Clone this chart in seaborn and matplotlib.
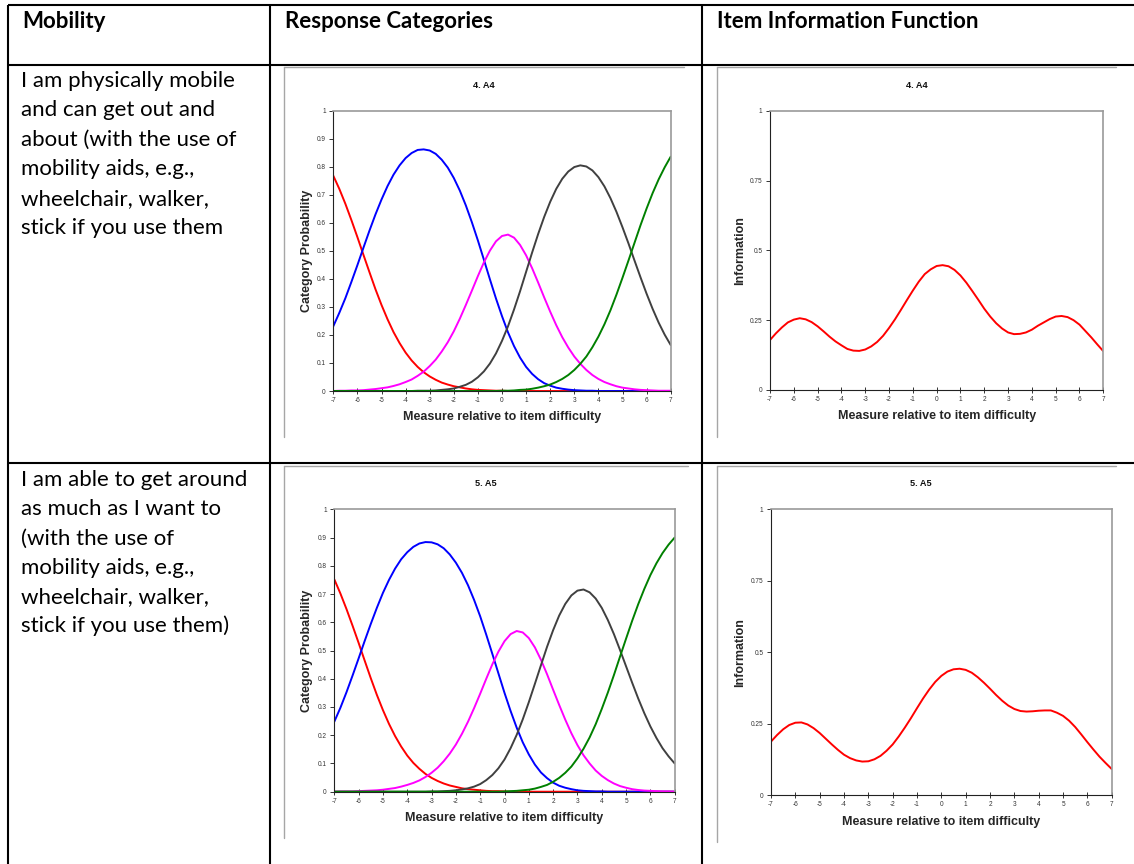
import matplotlib
matplotlib.use("Agg")
import matplotlib.pyplot as plt
import seaborn as sns
import pandas as pd

# measure relative to item difficulty (x grid of the curves)
x_vals = [-7, -6.75, -6.5, -6.25, -6, -5.75, -5.5, -5.25, -5, -4.75, -4.5, -4.25, -4, -3.75,
          -3.5, -3.25, -3, -2.75, -2.5, -2.25, -2, -1.75, -1.5, -1.25, -1, -0.75, -0.5, -0.25,
          0, 0.25, 0.5, 0.75, 1, 1.25, 1.5, 1.75, 2, 2.25, 2.5, 2.75, 3, 3.25, 3.5, 3.75,
          4, 4.25, 4.5, 4.75, 5, 5.25, 5.5, 5.75, 6, 6.25, 6.5, 6.75, 7]

categories = ["0", "1", "2", "3", "4"]
cat_colors = ["#ff0000", "#0000ff", "#ff00ff", "#404040", "#008000"]

# item 4. A4 - category probabilities
a4_cat0 = [.768, .721, .668, .610, .549, .486, .424, .363, .307, .256, .210, .171, .137, .109,
           .086, .067, .052, .040, .030, .023, .017, .013, .009, .006, .004, .003, .002, .001,
           .001, 0, 0, 0, 0, 0, 0, 0, 0, 0, 0, 0, 0, 0, 0, 0,
           0, 0, 0, 0, 0, 0, 0, 0, 0, 0, 0, 0, 0]
a4_cat1 = [.231, .279, .331, .389, .449, .511, .572, .630, .683, .731, .772, .805, .831, .849,
           .860, .862, .858, .846, .825, .797, .760, .715, .662, .602, .537, .468, .398, .330,
           .267, .209, .160, .119, .086, .061, .042, .028, .019, .012, .008, .005, .003, .002, .001, .001,
           0, 0, 0, 0, 0, 0, 0, 0, 0, 0, 0, 0, 0]
a4_cat2 = [0, .001, .001, .002, .002, .003, .005, .007, .010, .013, .018, .024, .032, .041,
           .054, .069, .089, .112, .141, .174, .213, .258, .307, .358, .410, .459, .501, .534,
           .553, .558, .547, .521, .484, .438, .387, .334, .283, .235, .192, .155, .123, .097, .075, .057,
           .043, .032, .024, .017, .012, .009, .006, .004, .003, .002, .001, .001, .001]
a4_cat3 = [0, 0, 0, 0, 0, 0, 0, 0, 0, 0, 0, 0, 0, 0,
           .001, .001, .001, .002, .004, .006, .009, .015, .022, .033, .049, .070, .098, .134,
           .179, .231, .291, .356, .425, .494, .560, .621, .675, .721, .757, .783, .799, .805, .801, .787,
           .763, .730, .688, .639, .584, .526, .465, .405, .347, .293, .244, .201, .164]
a4_cat4 = [0, 0, 0, 0, 0, 0, 0, 0, 0, 0, 0, 0, 0, 0,
           0, 0, 0, 0, 0, 0, 0, 0, 0, 0, 0, 0, 0, 0,
           .001, .001, .002, .004, .005, .008, .012, .017, .023, .032, .043, .057, .075, .097, .123, .156,
           .194, .238, .288, .344, .404, .466, .529, .592, .651, .706, .755, .798, .836]
a4_info = [.179, .203, .224, .242, .252, .257, .253, .243, .228, .210, .191, .174, .160, .147,
           .141, .140, .145, .156, .172, .194, .222, .253, .287, .322, .356, .388, .415, .432,
           .444, .447, .443, .430, .410, .384, .354, .323, .291, .263, .239, .220, .206, .200, .201, .206,
           .216, .230, .242, .254, .263, .265, .261, .250, .234, .211, .188, .163, .139]

# item 5. A5 - category probabilities
a5_cat0 = [.752, .702, .647, .588, .527, .464, .402, .343, .289, .240, .197, .160, .128, .102,
           .081, .063, .049, .038, .029, .022, .017, .012, .009, .007, .005, .003, .002, .002,
           .001, 0, 0, 0, 0, 0, 0, 0, 0, 0, 0, 0, 0, 0, 0, 0,
           0, 0, 0, 0, 0, 0, 0, 0, 0, 0, 0, 0, 0]
a5_cat1 = [.248, .297, .352, .411, .472, .534, .594, .651, .704, .750, .790, .823, .848, .867,
           .879, .884, .883, .876, .862, .840, .811, .775, .731, .679, .621, .556, .488, .419,
           .350, .286, .227, .175, .132, .096, .068, .048, .032, .021, .014, .009, .005, .003, .002, .001,
           .001, 0, 0, 0, 0, 0, 0, 0, 0, 0, 0, 0, 0]
a5_cat2 = [0, .001, .001, .001, .002, .003, .004, .005, .007, .010, .013, .018, .024, .031,
           .040, .052, .067, .085, .108, .135, .167, .205, .248, .296, .347, .400, .451, .496,
           .533, .558, .569, .564, .544, .511, .467, .416, .361, .307, .255, .207, .165, .129, .100, .075,
           .056, .041, .029, .020, .014, .009, .006, .004, .003, .002, .001, .001, 0]
a5_cat3 = [0, 0, 0, 0, 0, 0, 0, 0, 0, 0, 0, 0, 0, 0,
           0, 0, .001, .001, .002, .003, .005, .008, .012, .018, .027, .041, .059, .083,
           .114, .154, .201, .256, .317, .382, .448, .513, .572, .624, .665, .695, .712, .716, .706, .684,
           .651, .608, .558, .502, .444, .386, .330, .278, .231, .190, .154, .125, .100]
a5_cat4 = [0, 0, 0, 0, 0, 0, 0, 0, 0, 0, 0, 0, 0, 0,
           0, 0, 0, 0, 0, 0, 0, 0, 0, 0, 0, 0, 0, 0,
           .001, .002, .003, .005, .007, .011, .017, .024, .035, .049, .067, .089, .118, .152, .192, .239,
           .293, .351, .413, .478, .542, .605, .664, .718, .767, .809, .845, .875, .900]
a5_info = [.187, .210, .230, .245, .253, .254, .247, .234, .217, .197, .177, .158, .141, .129,
           .121, .117, .118, .125, .137, .155, .177, .205, .236, .269, .304, .338, .369, .396,
           .417, .432, .440, .442, .438, .428, .412, .393, .372, .350, .330, .313, .301, .294, .292, .293,
           .295, .296, .296, .288, .277, .260, .238, .212, .185, .159, .134, .112, .091]

x_ticklabels = ["-7", "-6", "-5", "-4", "-3", "-2", "-1", "0", "1", "2", "3", "4", "5", "6", "7"]
prob_ticks = [0, 0.1, 0.2, 0.3, 0.4, 0.5, 0.6, 0.7, 0.8, 0.9, 1]
prob_ticklabels = ["0", "0.1", "0.2", "0.3", "0.4", "0.5", "0.6", "0.7", "0.8", "0.9", "1"]
info_ticks = [0, 0.25, 0.5, 0.75, 1]
info_ticklabels = ["0", "0.25", "0.5", "0.75", "1"]

headers = ["Mobility", "Response Categories", "Item Information Function"]
row1_text = ["I am physically mobile", "and can get out and", "about (with the use of",
             "mobility aids, e.g.,", "wheelchair, walker,", "stick if you use them"]
row2_text = ["I am able to get around", "as much as I want to", "(with the use of",
             "mobility aids, e.g.,", "wheelchair, walker,", "stick if you use them)"]

sns.set_theme(style="white")
plt.rcParams["font.family"] = ["Liberation Sans", "DejaVu Sans"]

W, H = 1134, 864
fig = plt.figure(figsize=(W / 100, H / 100), dpi=100)

# table background (pixel coordinates)
bg = fig.add_axes([0, 0, 1, 1])
bg.set_xlim(0, W)
bg.set_ylim(H, 0)
bg.axis("off")

for y in [5, 65, 463]:
    bg.plot([8, W], [y, y], color="black", lw=1.5, solid_capstyle="butt")
for x in [8, 270, 702]:
    bg.plot([x, x], [5, H], color="black", lw=1.5, solid_capstyle="butt")

# screenshot borders of the pasted charts
grey = "#a6a6a6"
for (x0, x1, y0, y1) in [(283.5, 684, 66.5, 437), (716.5, 1116, 66.5, 437),
                         (283.5, 688, 465.5, 838), (716.5, 1116, 465.5, 842)]:
    bg.plot([x0, x0], [y0, y1], color=grey, lw=1.0)
    bg.plot([x0, x1], [y0, y0], color=grey, lw=1.0)

table_font = ["Lato", "DejaVu Sans"]
for hx, htxt in zip([22, 285, 717], headers):
    bg.text(hx, 22, htxt, fontsize=16, fontweight="bold", family=table_font,
            ha="left", va="center", color="black")
for i, line in enumerate(row1_text):
    bg.text(21, 81 + i * 29.4, line, fontsize=16, family=table_font,
            ha="left", va="center", color="black")
for i, line in enumerate(row2_text):
    bg.text(21, 480 + i * 29.2, line, fontsize=16, family=table_font,
            ha="left", va="center", color="black")


def px_axes(left, right, top, bottom):
    return fig.add_axes([left / W, (H - bottom) / H, (right - left) / W, (bottom - top) / H])


def style_axes(ax, yticks, yticklabels, ylabel, ylab_x):
    ax.set_xlim(-7, 7)
    ax.set_ylim(0, 1)
    ax.set_facecolor("white")
    ax.set_xticks(range(-7, 8))
    ax.set_xticklabels(x_ticklabels)
    ax.set_yticks(yticks)
    ax.set_yticklabels(yticklabels)
    ax.tick_params(axis="x", direction="inout", length=4, width=0.7, labelsize=4.7,
                   pad=2.5, color="#333333", labelcolor="#333333", bottom=True)
    ax.tick_params(axis="y", direction="out", length=3, width=0.7, labelsize=4.7,
                   pad=2.5, color="#333333", labelcolor="#333333", left=True)
    for side in ["left", "bottom"]:
        ax.spines[side].set_color("#222222")
        ax.spines[side].set_linewidth(0.8)
    for side in ["top", "right"]:
        ax.spines[side].set_color("#9a9a9a")
        ax.spines[side].set_linewidth(1.2)
    ax.set_xlabel("Measure relative to item difficulty", fontsize=9, fontweight="bold")
    ax.set_ylabel(ylabel, fontsize=9, fontweight="bold")
    ax.xaxis.set_label_coords(0.5, -0.093)
    ax.xaxis.label.set_va("center")
    ax.yaxis.set_label_coords(ylab_x, 0.5)
    ax.yaxis.label.set_va("center")


def prob_frame(cols):
    rows = []
    for cat, vals in zip(categories, cols):
        for xv, pv in zip(x_vals, vals):
            rows.append({"measure": xv, "prob": pv, "cat": cat})
    return pd.DataFrame(rows)


palette = dict(zip(categories, cat_colors))

items = [
    ("4. A4", [a4_cat0, a4_cat1, a4_cat2, a4_cat3, a4_cat4], a4_info,
     (333.3, 670.7, 110.7, 391), (770, 1103.3, 110.7, 390), 86, (484, 916.7)),
    ("5. A5", [a5_cat0, a5_cat1, a5_cat2, a5_cat3, a5_cat4], a5_info,
     (334.3, 674.7, 509.3, 791.7), (771, 1111.7, 509.3, 795), 484, (486, 920.7)),
]

for title, cols, info, prob_box, info_box, title_y, title_xs in items:
    ax_p = px_axes(*prob_box)
    df = prob_frame(cols)
    sns.lineplot(data=df, x="measure", y="prob", hue="cat", palette=palette,
                 estimator=None, sort=False, lw=1.4, legend=False, ax=ax_p)
    style_axes(ax_p, prob_ticks, prob_ticklabels, "Category Probability",
               -(prob_box[0] - 307) / (prob_box[1] - prob_box[0]))

    ax_i = px_axes(*info_box)
    dfi = pd.DataFrame({"measure": x_vals, "info": info})
    sns.lineplot(data=dfi, x="measure", y="info", color="#ff0000",
                 estimator=None, sort=False, lw=1.4, ax=ax_i)
    style_axes(ax_i, info_ticks, info_ticklabels, "Information",
               -(info_box[0] - 740) / (info_box[1] - info_box[0]))

    for tx in title_xs:
        bg.text(tx, title_y, title, fontsize=6.6, fontweight="bold",
                ha="center", va="center", color="#111111")

fig.savefig("out.png", dpi=100)
